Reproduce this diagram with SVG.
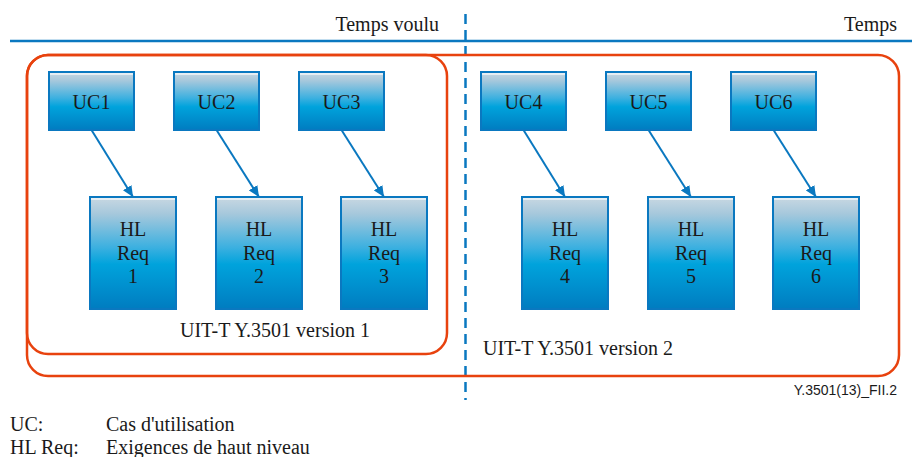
<svg xmlns="http://www.w3.org/2000/svg" width="912" height="457" viewBox="0 0 912 457">
<style>
.t{font-family:'Liberation Serif','Times New Roman','DejaVu Serif',serif;font-size:20px;fill:#1a1a1a}
.c{text-anchor:middle}
.box{fill:url(#g);stroke:#0a78c0;stroke-width:2}
.hi{stroke:#ffffff;stroke-width:1.5;opacity:0.8}
.red{fill:none;stroke:#e8420e;stroke-width:2.5}
.arr{stroke:#0a78c0;stroke-width:2;fill:none;marker-end:url(#ah)}
</style>
<defs>
<linearGradient id="g" x1="0" y1="0" x2="0" y2="1">
<stop offset="0" stop-color="#c9d8e2"/>
<stop offset="0.15" stop-color="#a6c8dc"/>
<stop offset="0.45" stop-color="#3cb0e0"/>
<stop offset="0.6" stop-color="#00a3dc"/>
<stop offset="1" stop-color="#007cc0"/>
</linearGradient>
<marker id="ah" markerUnits="userSpaceOnUse" markerWidth="12" markerHeight="10" refX="11" refY="5" orient="auto">
<path d="M0,0 L11,5 L0,10 Z" fill="#0a78c0"/>
</marker>
</defs>
<g id="timeline">
<line x1="10" y1="41" x2="912" y2="41" stroke="#0a78c0" stroke-width="2.5"/>
<line x1="465.5" y1="14" x2="465.5" y2="400" stroke="#0a78c0" stroke-width="2.5" stroke-dasharray="10,6"/>
<text class="t" font-family="Liberation Serif, serif" x="439" y="31" text-anchor="end">Temps voulu</text>
<text class="t" font-family="Liberation Serif, serif" x="897" y="31" text-anchor="end">Temps</text>
</g>
<g id="version2">
<rect class="red" x="27" y="55" width="872" height="321" rx="21" ry="21"/>
<text class="t" font-family="Liberation Serif, serif" x="483" y="355">UIT-T Y.3501 version 2</text>
</g>
<g id="version1">
<rect class="red" x="27" y="55" width="420" height="299" rx="21" ry="21"/>
<text class="t" font-family="Liberation Serif, serif" x="180" y="337">UIT-T Y.3501 version 1</text>
</g>
<g id="connectors">
<line class="arr" x1="91.5" y1="130" x2="133" y2="197"/>
<line class="arr" x1="216.5" y1="130" x2="259" y2="197"/>
<line class="arr" x1="341.5" y1="130" x2="384" y2="197"/>
<line class="arr" x1="523.5" y1="130" x2="565" y2="197"/>
<line class="arr" x1="648.5" y1="130" x2="691" y2="197"/>
<line class="arr" x1="773.5" y1="130" x2="816" y2="197"/>
</g>
<g font-family="Liberation Serif, serif">
<g id="uc1"><rect class="box" x="49" y="72" width="85" height="58"/><line class="hi" x1="50" y1="74" x2="133" y2="74"/><text class="t c" x="91.5" y="109">UC1</text></g>
<g id="uc2"><rect class="box" x="174" y="72" width="85" height="58"/><line class="hi" x1="175" y1="74" x2="258" y2="74"/><text class="t c" x="216.5" y="109">UC2</text></g>
<g id="uc3"><rect class="box" x="299" y="72" width="85" height="58"/><line class="hi" x1="300" y1="74" x2="383" y2="74"/><text class="t c" x="341.5" y="109">UC3</text></g>
<g id="uc4"><rect class="box" x="481" y="72" width="85" height="58"/><line class="hi" x1="482" y1="74" x2="565" y2="74"/><text class="t c" x="523.5" y="109">UC4</text></g>
<g id="uc5"><rect class="box" x="606" y="72" width="85" height="58"/><line class="hi" x1="607" y1="74" x2="690" y2="74"/><text class="t c" x="648.5" y="109">UC5</text></g>
<g id="uc6"><rect class="box" x="731" y="72" width="85" height="58"/><line class="hi" x1="732" y1="74" x2="815" y2="74"/><text class="t c" x="773.5" y="109">UC6</text></g>
<g id="hl1"><rect class="box" x="90" y="197" width="86" height="112"/><line class="hi" x1="91" y1="199" x2="175" y2="199"/><text class="t c" x="133" y="236">HL</text><text class="t c" x="133" y="260">Req</text><text class="t c" x="133" y="283">1</text></g>
<g id="hl2"><rect class="box" x="216" y="197" width="86" height="112"/><line class="hi" x1="217" y1="199" x2="301" y2="199"/><text class="t c" x="259" y="236">HL</text><text class="t c" x="259" y="260">Req</text><text class="t c" x="259" y="283">2</text></g>
<g id="hl3"><rect class="box" x="341" y="197" width="86" height="112"/><line class="hi" x1="342" y1="199" x2="426" y2="199"/><text class="t c" x="384" y="236">HL</text><text class="t c" x="384" y="260">Req</text><text class="t c" x="384" y="283">3</text></g>
<g id="hl4"><rect class="box" x="522" y="197" width="86" height="112"/><line class="hi" x1="523" y1="199" x2="607" y2="199"/><text class="t c" x="565" y="236">HL</text><text class="t c" x="565" y="260">Req</text><text class="t c" x="565" y="283">4</text></g>
<g id="hl5"><rect class="box" x="648" y="197" width="86" height="112"/><line class="hi" x1="649" y1="199" x2="733" y2="199"/><text class="t c" x="691" y="236">HL</text><text class="t c" x="691" y="260">Req</text><text class="t c" x="691" y="283">5</text></g>
<g id="hl6"><rect class="box" x="773" y="197" width="86" height="112"/><line class="hi" x1="774" y1="199" x2="858" y2="199"/><text class="t c" x="816" y="236">HL</text><text class="t c" x="816" y="260">Req</text><text class="t c" x="816" y="283">6</text></g>
</g>
<g id="figid"><text x="897" y="395" text-anchor="end" font-family="Liberation Sans, Arial, sans-serif" font-size="14" fill="#1a1a1a">Y.3501(13)_FII.2</text></g>
<g id="legend" font-family="Liberation Serif, serif">
<text class="t" x="10" y="431">UC:</text>
<text class="t" x="106" y="431">Cas d'utilisation</text>
<text class="t" x="10" y="454">HL Req:</text>
<text class="t" x="106" y="454">Exigences de haut niveau</text>
</g>
</svg>
